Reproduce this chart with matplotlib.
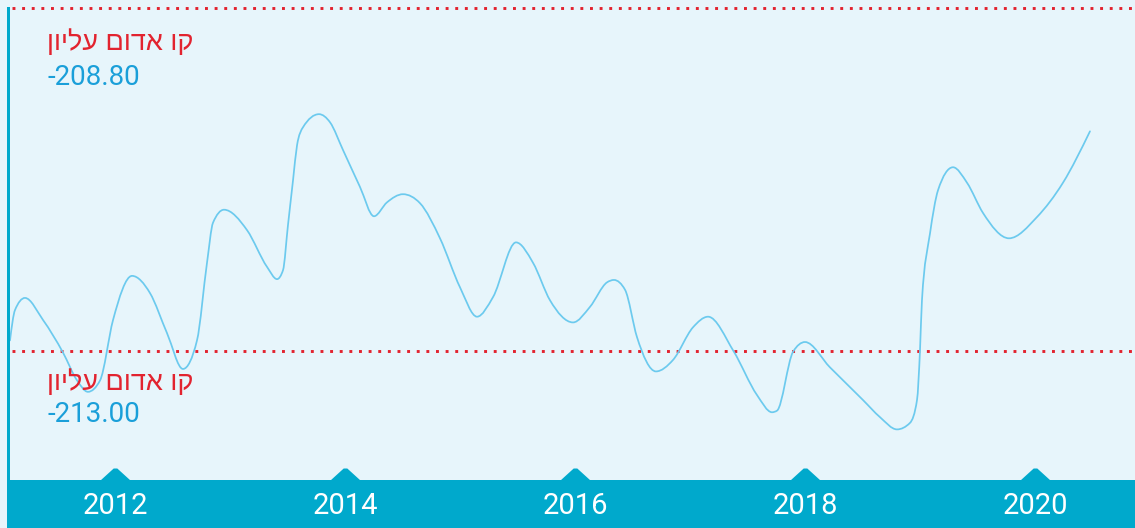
import numpy as np
import matplotlib
matplotlib.use("Agg")
import matplotlib.pyplot as plt
from matplotlib.path import Path
from matplotlib.patches import PathPatch, Rectangle
from matplotlib.transforms import blended_transform_factory

# ---------------- data ----------------
years = [2011.087, 2011.130, 2011.217, 2011.374, 2011.548, 2011.670, 2011.765, 2011.870,
         2011.983, 2012.148, 2012.304, 2012.452, 2012.591, 2012.713, 2012.800, 2012.852,
         2012.948, 2013.148, 2013.322, 2013.409, 2013.461, 2013.504, 2013.548, 2013.583,
         2013.635, 2013.774, 2013.870, 2013.983, 2014.130, 2014.252, 2014.365, 2014.504,
         2014.652, 2014.826, 2015.000, 2015.148, 2015.287, 2015.487, 2015.635, 2015.783,
         2015.983, 2016.130, 2016.278, 2016.339, 2016.435, 2016.539, 2016.704, 2016.852,
         2017.026, 2017.157, 2017.378, 2017.583, 2017.713, 2017.757, 2017.896,
         2018.000, 2018.217, 2018.504, 2018.652, 2018.800, 2018.913, 2018.974, 2019.000,
         2019.017, 2019.087, 2019.157, 2019.287, 2019.409, 2019.548, 2019.774, 2020.017,
         2020.243, 2020.478]
levels = [-212.87, -212.50, -212.35, -212.62, -213.02, -213.36, -213.50, -213.36,
          -212.62, -212.08, -212.29, -212.78, -213.22, -212.87, -211.92, -211.43,
          -211.27, -211.52, -211.97, -212.12, -212.01, -211.46, -210.91, -210.48,
          -210.26, -210.10, -210.20, -210.54, -210.99, -211.35, -211.18, -211.08,
          -211.19, -211.62, -212.22, -212.58, -212.34, -211.67, -211.92, -212.38,
          -212.65, -212.46, -212.16, -212.13, -212.25, -212.83, -213.25, -213.11,
          -212.71, -212.58, -213.00, -213.54, -213.75, -213.73, -213.01,
          -212.89, -213.20, -213.60, -213.81, -213.96, -213.88, -213.60, -212.99,
          -212.38, -211.56, -211.03, -210.75, -210.94, -211.31, -211.62, -211.36,
          -210.94, -210.31]

red_line_levels = [-208.80, -213.00]
red_line_labels = ["קו אדום עליון", "קו אדום עליון"]
red_line_values = ["-208.80", "-213.00"]
tick_years = [2012, 2014, 2016, 2018, 2020]
tick_labels = ["2012", "2014", "2016", "2018", "2020"]

# ---------------- style ----------------
W, H = 1135, 528
BG = "#e7f5fb"
BAND = "#00a9cc"
RED = "#e2232f"
NUMBLUE = "#1a9fd9"
CURVE = "#6ccaee"

fig = plt.figure(figsize=(W / 100, H / 100), dpi=100, facecolor=BG)
ax = fig.add_axes([0, 0, 1, 1])
ax.set_facecolor(BG)
for s in ax.spines.values():
    s.set_visible(False)
ax.set_xticks([])
ax.set_yticks([])

# scale: 115 px per year, 2012 at x=115 px; 81.667 px per metre, -208.80 at y=8 px
px_per_year = 115.0
px_per_m = 343.0 / 4.2
ax.set_xlim(2012 - 115 / px_per_year, 2012 + (W - 115) / px_per_year)
ax.set_ylim(-208.80 - (H - 8) / px_per_m, -208.80 + 8 / px_per_m)

# ---------------- monotone cubic curve (d3 curveMonotoneX style) ----------------
x = np.asarray(years, float)
y = np.asarray(levels, float)
n = len(x)
h = np.diff(x)
s = np.diff(y) / h
t = np.zeros(n)
for i in range(1, n - 1):
    h0, h1, s0, s1 = h[i - 1], h[i], s[i - 1], s[i]
    p = (s0 * h1 + s1 * h0) / (h0 + h1)
    t[i] = (np.sign(s0) + np.sign(s1)) * min(abs(s0), abs(s1), 0.5 * abs(p))
t[0] = (3 * s[0] - t[1]) / 2
t[-1] = (3 * s[-1] - t[-2]) / 2
verts = [(x[0], y[0])]
codes = [Path.MOVETO]
for i in range(n - 1):
    dx = h[i] / 3
    verts += [(x[i] + dx, y[i] + dx * t[i]), (x[i + 1] - dx, y[i + 1] - dx * t[i + 1]),
              (x[i + 1], y[i + 1])]
    codes += [Path.CURVE4] * 3
ax.add_patch(PathPatch(Path(verts, codes), fill=False, edgecolor=CURVE, lw=1.25,
                       capstyle="round", joinstyle="round", zorder=4))

# ---------------- red dotted lines with labels ----------------
heb_offsets = [(-35, -69), (-32, -63)]
for lvl, lab, val, (oh, on) in zip(red_line_levels, red_line_labels, red_line_values, heb_offsets):
    ax.axhline(lvl, xmin=12 / W, xmax=1, color=RED, lw=2.1,
               linestyle=(0, (1, 2.3)), dash_capstyle="butt", zorder=3)
    ax.annotate(lab[::-1], xy=(47 / W, lvl), xycoords=("axes fraction", "data"),
                xytext=(0, oh), textcoords="offset pixels", ha="left", va="center",
                color=RED, fontsize=19.5, family=["Liberation Sans", "DejaVu Sans"], zorder=5)
    ax.annotate(val, xy=(47 / W, lvl), xycoords=("axes fraction", "data"),
                xytext=(0, on), textcoords="offset pixels", ha="left", va="center",
                color=NUMBLUE, fontsize=20, family="Roboto", zorder=5)

# ---------------- left bar & bottom band ----------------
band_top = 1 - 480 / H
ax.add_patch(Rectangle((7 / W, 0), 1 - 7 / W, band_top, transform=ax.transAxes,
                       facecolor=BAND, edgecolor="none", zorder=6, clip_on=False))
ax.add_patch(Rectangle((7 / W, band_top), 3 / W, (480 - 7) / H, transform=ax.transAxes,
                       facecolor=BAND, edgecolor="none", zorder=6))

trans = blended_transform_factory(ax.transData, ax.transAxes)
tri = Path([(-1, 0), (-0.12, 0.8), (0.12, 0.8), (1, 0), (-1, 0)],
           [Path.MOVETO, Path.LINETO, Path.LINETO, Path.LINETO, Path.CLOSEPOLY])
ax.plot(tick_years, [band_top] * len(tick_years), linestyle="none", marker=tri,
        markersize=21.6, markerfacecolor=BAND, markeredgewidth=0, transform=trans,
        zorder=6, clip_on=False)
for yr, lab in zip(tick_years, tick_labels):
    ax.text(yr, 1 - 506 / H, lab, transform=trans, ha="center", va="center",
            color="white", fontsize=21, family="Roboto", zorder=7)

fig.savefig("out.png", dpi=100, facecolor=BG)
